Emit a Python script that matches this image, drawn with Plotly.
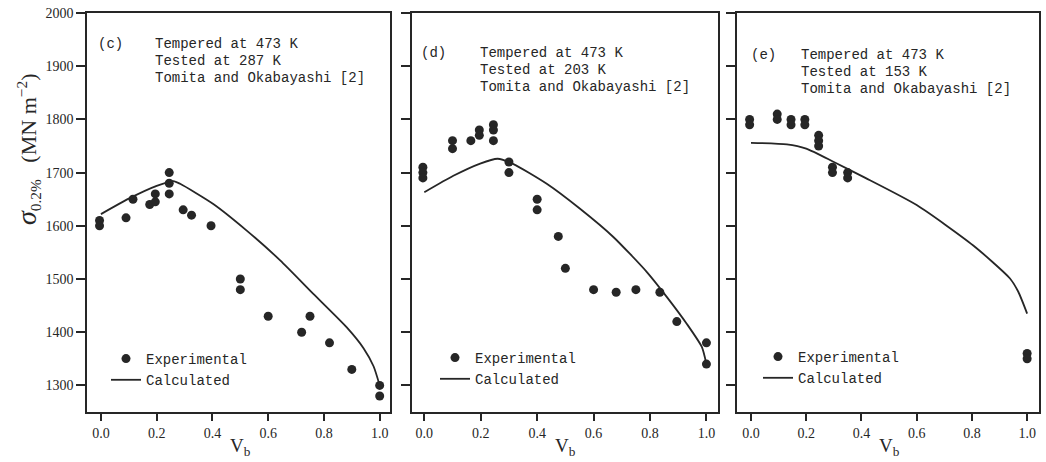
import plotly.graph_objects as go

# ---------------- data ----------------
# Panel (c): tested at 287 K
vb_c_exp = [-0.005, -0.005, 0.09, 0.115, 0.175, 0.195, 0.195, 0.245, 0.245, 0.245, 0.295,
            0.325, 0.395, 0.5, 0.5, 0.6, 0.72, 0.75, 0.82, 0.9, 1.0, 1.0]
sig_c_exp = [1610, 1600, 1615, 1650, 1640, 1660, 1645, 1700, 1680, 1660, 1630,
             1620, 1600, 1500, 1480, 1430, 1400, 1430, 1380, 1330, 1300, 1280]
vb_c_calc = [0.0, 0.1, 0.2, 0.26, 0.284, 0.403, 0.523, 0.643, 0.762, 0.882, 0.942, 0.978, 1.0]
sig_c_calc = [1622, 1651, 1675, 1684, 1679, 1641, 1591, 1535, 1472, 1409, 1370, 1336, 1300]

# Panel (d): tested at 203 K
vb_d_exp = [-0.005, -0.005, -0.005, 0.1, 0.1, 0.165, 0.195, 0.195, 0.245, 0.245, 0.245, 0.3,
            0.3, 0.4, 0.4, 0.475, 0.5, 0.6, 0.68, 0.75, 0.835, 0.895, 1.0, 1.0]
sig_d_exp = [1710, 1700, 1690, 1760, 1745, 1760, 1780, 1770, 1790, 1780, 1760, 1720,
             1700, 1650, 1630, 1580, 1520, 1480, 1475, 1480, 1475, 1420, 1380, 1340]
vb_d_calc = [0.0, 0.103, 0.198, 0.26, 0.316, 0.434, 0.552, 0.67, 0.789, 0.86, 0.93, 0.984, 1.0]
sig_d_calc = [1663, 1694, 1717, 1726, 1716, 1679, 1632, 1579, 1513, 1466, 1416, 1372, 1340]

# Panel (e): tested at 153 K
vb_e_exp = [-0.005, -0.005, 0.095, 0.095, 0.145, 0.145, 0.195, 0.195, 0.245, 0.245, 0.245,
            0.295, 0.295, 0.35, 0.35, 1.0, 1.0]
sig_e_exp = [1800, 1790, 1810, 1800, 1800, 1790, 1800, 1790, 1770, 1760, 1750,
             1710, 1700, 1700, 1690, 1360, 1350]
vb_e_calc = [0.0, 0.13, 0.2, 0.3, 0.407, 0.6, 0.805, 0.938, 0.968, 1.0]
sig_e_calc = [1756, 1753, 1745, 1720, 1692, 1639, 1563, 1501, 1476, 1435]

panel_tags = ["(c)", "(d)", "(e)"]
panel_lines = [
    ["Tempered at 473 K", "Tested at 287 K", "Tomita and Okabayashi [2]"],
    ["Tempered at 473 K", "Tested at 203 K", "Tomita and Okabayashi [2]"],
    ["Tempered at 473 K", "Tested at 153 K", "Tomita and Okabayashi [2]"],
]
x_ticks = [0.0, 0.2, 0.4, 0.6, 0.8, 1.0]
y_ticks = [1300, 1400, 1500, 1600, 1700, 1800, 1900, 2000]

# ---------------- layout helpers ----------------
W, H = 1046, 462
INK = "#262626"
MONO = "Liberation Mono"
SERIF = "Liberation Serif"

def px(xp):
    return xp / W

def py(yp):
    return 1 - yp / H

panels = [
    dict(exp=(vb_c_exp, sig_c_exp), calc=(vb_c_calc, sig_c_calc), left=87, right=390,
         xr=[-0.05, 1.037], tag_x=96, text_x=153, text_y=44, leg_x=106, leg_y=343),
    dict(exp=(vb_d_exp, sig_d_exp), calc=(vb_d_calc, sig_d_calc), left=412, right=718,
         xr=[-0.0436, 1.041], tag_x=419, text_x=478, text_y=53, leg_x=435, leg_y=342),
    dict(exp=(vb_e_exp, sig_e_exp), calc=(vb_e_calc, sig_e_calc), left=737, right=1039,
         xr=[-0.0507, 1.043], tag_x=749, text_x=799, text_y=55, leg_x=758, leg_y=341),
]

fig = go.Figure()
annotations = []
legend_keys = ["legend", "legend2", "legend3"]

for i, p in enumerate(panels):
    n = "" if i == 0 else str(i + 1)
    xa, ya = "x" + n, "y" + n
    fig.add_trace(go.Scatter(
        x=p["exp"][0], y=p["exp"][1], mode="markers", name="Experimental",
        marker=dict(color=INK, size=9), xaxis=xa, yaxis=ya, legend=legend_keys[i]))
    fig.add_trace(go.Scatter(
        x=p["calc"][0], y=p["calc"][1], mode="lines", name="Calculated",
        line=dict(color=INK, width=1.8, shape="spline", smoothing=0.6),
        xaxis=xa, yaxis=ya, legend=legend_keys[i]))

    axis_common = dict(showline=True, mirror=True, linecolor=INK, linewidth=1.5,
                       ticks="outside", tickcolor=INK, tickwidth=1.5, showgrid=False,
                       zeroline=False, automargin=False, ticklabeloverflow="allow")
    fig.layout["xaxis" + n] = dict(
        domain=[px(p["left"]), px(p["right"])], range=p["xr"], anchor=ya,
        tickvals=x_ticks, ticktext=[f"{v:.1f}" for v in x_ticks], ticklen=7,
        tickfont=dict(family=SERIF, size=14, color=INK), **axis_common)
    fig.layout["yaxis" + n] = dict(
        domain=[py(412), py(13)], range=[1250, 2000], anchor=xa,
        tickvals=y_ticks, ticklen=9, showticklabels=(i == 0),
        tickfont=dict(family=SERIF, size=14, color=INK), **axis_common)

    fig.layout[legend_keys[i]] = dict(
        x=px(p["leg_x"]), y=py(p["leg_y"]), xanchor="left", yanchor="top",
        bgcolor="rgba(0,0,0,0)", font=dict(family=MONO, size=14, color=INK),
        borderwidth=0, itemwidth=30, tracegroupgap=0)

    annotations.append(dict(text=panel_tags[i], xref="paper", yref="paper",
                            x=px(p["tag_x"]), y=py(p["text_y"]), xanchor="left",
                            yanchor="middle", showarrow=False,
                            font=dict(family=MONO, size=14, color=INK)))
    for k, line in enumerate(panel_lines[i]):
        annotations.append(dict(text=line, xref="paper", yref="paper",
                                x=px(p["text_x"]), y=py(p["text_y"] + 17 * k),
                                xanchor="left", yanchor="middle", showarrow=False,
                                font=dict(family=MONO, size=14, color=INK)))
    annotations.append(dict(text="V<sub>b</sub>", xref="x" + n, yref="paper",
                            x=0.5, y=py(447), xanchor="center", yanchor="middle",
                            showarrow=False, font=dict(family=SERIF, size=19, color=INK)))

annotations.append(dict(
    text="<span style='font-size:28px'><i>σ</i></span><sub>0.2%</sub>   (MN m<sup>−2</sup>)",
    xref="paper", yref="paper", x=px(27), y=py(150), textangle=-90,
    xanchor="center", yanchor="middle", showarrow=False,
    font=dict(family=SERIF, size=22, color=INK)))

fig.update_layout(
    width=W, height=H, margin=dict(l=0, r=0, t=0, b=0),
    paper_bgcolor="white", plot_bgcolor="white",
    annotations=annotations, showlegend=True,
)

# remove the browser's default 8px body margin so the figure fills the window exactly
fig.write_html("out.html",
               config={"displayModeBar": False},
               post_script="document.body.style.margin='0';document.body.style.overflow='hidden';")
